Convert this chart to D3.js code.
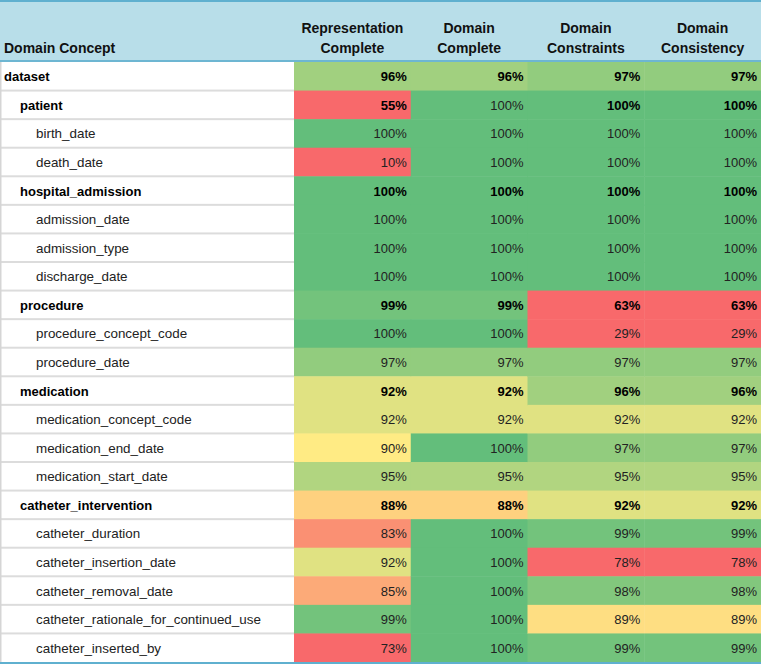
<!DOCTYPE html>
<html><head><meta charset="utf-8">
<script src="https://cdn.jsdelivr.net/npm/d3@7"></script>
<style>body{margin:0;background:#fff}svg{display:block}</style>
</head><body><div id="chart"></div>
<script>
const concepts = ["dataset","patient","birth_date","death_date","hospital_admission","admission_date","admission_type","discharge_date","procedure","procedure_concept_code","procedure_date","medication","medication_concept_code","medication_end_date","medication_start_date","catheter_intervention","catheter_duration","catheter_insertion_date","catheter_removal_date","catheter_rationale_for_continued_use","catheter_inserted_by"];
const levels = [0,1,2,2,1,2,2,2,1,2,2,1,2,2,2,1,2,2,2,2,2];
const metrics = [["Representation","Complete"],["Domain","Complete"],["Domain","Constraints"],["Domain","Consistency"]];
const representationComplete = [96,55,100,10,100,100,100,100,99,100,97,92,92,90,95,88,83,92,85,99,73];
const domainComplete        = [96,100,100,100,100,100,100,100,99,100,97,92,92,100,95,88,100,100,100,100,100];
const domainConstraints     = [97,100,100,100,100,100,100,100,63,29,97,96,92,97,95,92,99,78,98,89,99];
const domainConsistency     = [97,100,100,100,100,100,100,100,63,29,97,96,92,97,95,92,99,78,98,89,99];
const series = [representationComplete, domainComplete, domainConstraints, domainConsistency];
const boldRows = levels.map(l => l < 2);

const W = 761, H = 664, headerH = 61, labelW = 294, bottomY = 662;
const svg = d3.select("#chart").append("svg").attr("width", W).attr("height", H)
  .style("font-family", "'Liberation Sans', Arial, sans-serif");

const y = d3.scaleBand().domain(d3.range(concepts.length)).range([headerH + 1, bottomY]);
const x = d3.scaleBand().domain(d3.range(metrics.length)).range([labelW, W]);
const color = d3.scaleLinear().domain([80, 90, 100]).range(["#F8696B", "#FFEB84", "#63BE7B"]).clamp(true);

// header
svg.append("rect").attr("x", 0).attr("y", 0).attr("width", W).attr("height", headerH).attr("fill", "#B8DEE9");
svg.append("rect").attr("x", 0).attr("y", 0).attr("width", W).attr("height", 2).attr("fill", "#5FB0CF");
svg.append("rect").attr("x", 0).attr("y", headerH - 1).attr("width", W).attr("height", 2).attr("fill", "#6DB6D2");
svg.append("text").attr("x", 4).attr("y", 53).attr("font-weight", "bold").attr("font-size", 14).attr("fill", "#111").text("Domain Concept");
metrics.forEach((m, i) => {
  const t = svg.append("text").attr("text-anchor", "middle").attr("font-weight", "bold").attr("font-size", 14).attr("fill", "#111");
  m.forEach((line, k) => t.append("tspan").attr("x", x(i) + x.bandwidth() / 2).attr("y", 33 + k * 20).text(line));
});

// label rows
const rows = svg.append("g");
concepts.forEach((c, r) => {
  rows.append("rect").attr("x", 0).attr("y", y(r)).attr("width", labelW).attr("height", y.bandwidth()).attr("fill", "#fff");
  if (r > 0) rows.append("rect").attr("x", 0).attr("y", y(r) - 1).attr("width", labelW).attr("height", 2).attr("fill", "#DCDCDC");
  rows.append("text").attr("x", 4 + levels[r] * 16).attr("y", y(r) + y.bandwidth() / 2 + 5)
    .attr("font-size", boldRows[r] ? 13 : 13.4).attr("font-weight", boldRows[r] ? "bold" : "normal")
    .attr("fill", boldRows[r] ? "#000" : "#222").text(c);
});
svg.append("rect").attr("x", 0).attr("y", headerH + 1).attr("width", 1.5).attr("height", bottomY - headerH - 1).attr("fill", "#D5D5D5");

// cells
series.forEach((vals, i) => {
  vals.forEach((v, r) => {
    svg.append("rect").attr("x", x(i)).attr("y", y(r)).attr("width", x.bandwidth() + 0.5).attr("height", y.bandwidth() + 0.5).attr("fill", color(v));
  });
});
series.forEach((vals, i) => {
  vals.forEach((v, r) => {
    const bold = boldRows[r] && !(r === 1 && i === 1);
    svg.append("text").attr("x", x(i) + x.bandwidth() - 4).attr("y", y(r) + y.bandwidth() / 2 + 5)
      .attr("text-anchor", "end").attr("font-size", 13).attr("font-weight", bold ? "bold" : "normal")
      .attr("fill", bold ? "#000" : "#222").text(v + "%");
  });
});
svg.append("rect").attr("x", 0).attr("y", bottomY).attr("width", W).attr("height", 2).attr("fill", "#5FB0CF");
</script></body></html>
